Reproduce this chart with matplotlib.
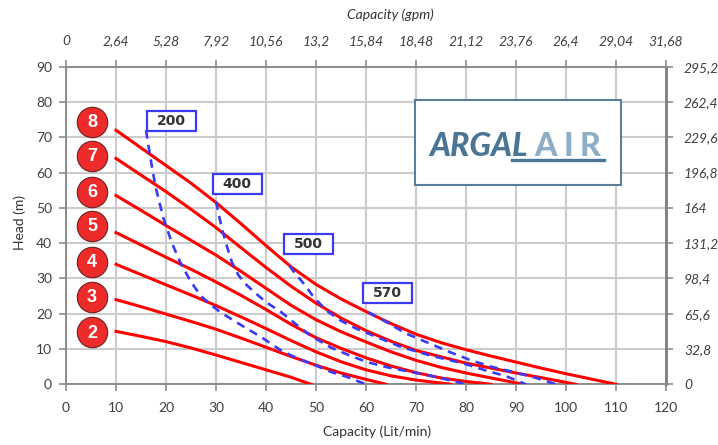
import matplotlib.pyplot as plt
from matplotlib.patches import Rectangle
from matplotlib.lines import Line2D

# pump curves: head (m) vs capacity (lit/min), one per air pressure (bar)
bar_names = ['2', '3', '4', '5', '6', '7', '8']
bar_x = [
    [10, 15, 20, 25, 30, 35, 40, 45, 49],
    [10, 15, 20, 25, 30, 35, 40, 45, 50, 55, 60, 64],
    [10, 15, 20, 25, 30, 35, 40, 45, 50, 55, 60, 65, 70, 77],
    [10, 15, 20, 25, 30, 35, 40, 45, 50, 55, 60, 65, 70, 75, 80, 85],
    [10, 15, 20, 25, 30, 35, 40, 45, 50, 55, 60, 65, 70, 75, 80, 85, 91.5],
    [10, 15, 20, 25, 30, 35, 40, 45, 50, 55, 60, 65, 70, 75, 80, 85, 90, 95, 102],
    [10, 15, 20, 25, 30, 35, 40, 45, 50, 55, 60, 65, 70, 75, 80, 85, 90, 95, 100, 105, 110],
]
bar_y = [
    [15, 13.6, 12.1, 10.3, 8.3, 6.2, 4.1, 2.0, 0],
    [24, 22.0, 19.9, 17.8, 15.6, 13.1, 10.5, 7.9, 5.4, 3.2, 1.4, 0],
    [34, 31.1, 28.2, 25.3, 22.3, 19.1, 15.8, 12.4, 9.2, 6.4, 4.1, 2.4, 1.2, 0],
    [43, 39.5, 36, 32.6, 29, 25.2, 21.2, 17, 13.2, 10.2, 7.5, 5.2, 3.3, 1.8, 0.8, 0],
    [53.5, 49.3, 45, 40.8, 36.6, 32, 27.2, 22.4, 18.3, 14.9, 12, 9.2, 6.8, 4.8, 3.2, 1.8, 0],
    [64, 59.3, 54.6, 49.6, 44.4, 38.7, 33.1, 27.8, 23, 18.8, 15.2, 12.2, 9.6, 7.8, 6.0, 4.6, 3.2, 1.9, 0],
    [72, 67, 62, 57, 51.5, 45.5, 39.3, 33.3, 28.3, 24.2, 20.6, 17.2, 14.2, 11.8, 9.8, 8.0, 6.3, 4.6, 3.0, 1.5, 0],
]

# air consumption curves (Nl/min)
air_names = ['200', '400', '500', '570']
air_x = [
    [16, 16.9, 17.9, 19.5, 21.2, 22.9, 25, 27, 29, 31, 35, 39, 43, 45, 47, 49, 53, 56, 60],
    [30, 30.5, 31.2, 32.2, 33.2, 34.5, 36, 38, 40, 43, 46, 49, 53, 56, 60, 64, 69, 74, 80],
    [44.7, 45.5, 47.5, 49.5, 52, 55, 58, 62, 67, 73, 79.5, 84, 88, 92],
    [60.5, 64, 68, 73, 77, 81, 85, 90, 94, 98],
]
air_y = [
    [72, 64, 56, 47, 40, 34.4, 29, 25, 22.5, 20.3, 16.8, 13.4, 9.6, 8.2, 7.0, 5.9, 3.5, 2.2, 0],
    [51.8, 48.5, 44, 39, 34.5, 30.9, 28.3, 25.7, 23.3, 20.5, 17, 13.7, 10.4, 8.6, 6.4, 4.9, 3.5, 2.1, 0],
    [33.6, 32, 28.6, 24.8, 21, 18, 15.8, 13.5, 10.6, 8.1, 5.9, 3.9, 2.3, 0],
    [20.4, 17.7, 14.4, 11.4, 9, 6.8, 5, 3.3, 1.8, 0],
]
air_label_x = [21, 34.2, 48.5, 64.2]
air_label_y = [74.5, 56.7, 39.7, 25.9]

badge_y = [14.7, 24.8, 34.7, 44.9, 54.6, 64.7, 74.4]

lpm_ticks = [0, 10, 20, 30, 40, 50, 60, 70, 80, 90, 100, 110, 120]
gpm_labels = ['0', '2,64', '5,28', '7,92', '10,56', '13,2', '15,84', '18,48',
              '21,12', '23,76', '26,4', '29,04', '31,68']
m_ticks = [0, 10, 20, 30, 40, 50, 60, 70, 80, 90]
ft_labels = ['0', '32,8', '65,6', '98,4', '131,2', '164', '196,8', '229,6',
             '262,4', '295,2']

plt.rcParams['font.family'] = ['Lato', 'DejaVu Sans']

fig = plt.figure(figsize=(7.18, 4.45), dpi=100)
ax = fig.add_axes([66 / 718, 1 - 384.3 / 445, 600 / 718, 317.6 / 445])

grey = '#8c8c8c'
txt = '#404040'

for xs, ys in zip(bar_x, bar_y):
    ax.plot(xs, ys, color='#ff0000', lw=2.2, zorder=3, solid_joinstyle='round')

for xs, ys in zip(air_x, air_y):
    ax.plot(xs, ys, color='#3b3bf5', lw=1.9, ls=(0, (3.2, 2.4)), zorder=4)

# boxed labels of the air curves
bw, bh = 9.8, 5.7
for name, lx, ly in zip(air_names, air_label_x, air_label_y):
    ax.add_patch(Rectangle((lx - bw / 2, ly - bh / 2), bw, bh, facecolor='white',
                           edgecolor='#3b3bf5', lw=1.6, zorder=5))
    ax.text(lx, ly, name, ha='center', va='center', fontsize=10, fontweight='bold',
            family='DejaVu Sans', color='#333333', zorder=6)

# pressure badges
ax.scatter([5.2] * len(badge_y), badge_y, s=480, color='#ee2b2b', edgecolor='#6b2222',
           linewidth=0.8, zorder=5, clip_on=False)
for name, by in zip(bar_names, badge_y):
    ax.text(5.2, by - 0.2, name, ha='center', va='center', fontsize=13, fontweight='bold',
            family='Liberation Sans', color='white', zorder=6)

ax.set_xlim(0, 120)
ax.set_ylim(0, 90)
ax.set_xticks(lpm_ticks)
ax.set_yticks(m_ticks)
ax.grid(color='#cccccc', lw=1.5, zorder=0)
ax.set_axisbelow(True)

for s in ['left', 'bottom', 'top']:
    ax.spines[s].set_color(grey)
    ax.spines[s].set_linewidth(1.4)
ax.spines['right'].set_color('#7f7f7f')
ax.spines['right'].set_linewidth(2)

ax.tick_params(axis='both', length=5, width=1.2, color=grey, labelsize=10, labelcolor=txt)
ax.tick_params(axis='x', pad=8)
ax.tick_params(axis='y', pad=5)

top = ax.secondary_xaxis('top')
top.set_xticks(lpm_ticks, labels=gpm_labels)
top.tick_params(length=5, width=1.2, color=grey, labelsize=10, labelcolor=txt, pad=9)
for lab in top.get_xticklabels():
    lab.set_style('italic')
top.spines['top'].set_visible(False)

right = ax.secondary_yaxis('right')
right.set_yticks(m_ticks, labels=ft_labels)
right.tick_params(length=5, width=1.2, color=grey, labelsize=10, labelcolor=txt, pad=8)
for lab in right.get_yticklabels():
    lab.set_style('italic')
right.spines['right'].set_visible(False)

fig.text(377 / 718, 1 - 432 / 445, 'Capacity (Lit/min)', ha='center', va='center',
         fontsize=10, color='#333333')
fig.text(390 / 718, 1 - 15 / 445, 'Capacity (gpm)', ha='center', va='center',
         fontsize=10, style='italic', color='#333333')
fig.text(20 / 718, 1 - 222 / 445, 'Head (m)', ha='center', va='center', rotation=90,
         fontsize=10, color='#333333')

# logo box
fig.add_artist(Rectangle((415 / 718, 1 - 185 / 445), 206 / 718, 85 / 445,
                         transform=fig.transFigure, facecolor='white',
                         edgecolor='#5a7f9c', lw=1.5, zorder=2))
fig.text(429 / 718, 1 - 147 / 445, 'ARGAL', ha='left', va='center', fontsize=23,
         fontweight='black', style='italic', color='#4a7595', zorder=3)
for ch, px in zip(['A', 'I', 'R'], [546, 568, 590]):
    fig.text(px / 718, 1 - 147 / 445, ch, ha='center', va='center', fontsize=23,
             fontweight='black', color='#8eaec6', zorder=3)
fig.add_artist(Line2D([512 / 718, 604 / 718], [1 - 160.5 / 445, 1 - 160.5 / 445],
                      transform=fig.transFigure, color='#4a7595', lw=2.4, zorder=3))

fig.savefig('out.png', dpi=100)
